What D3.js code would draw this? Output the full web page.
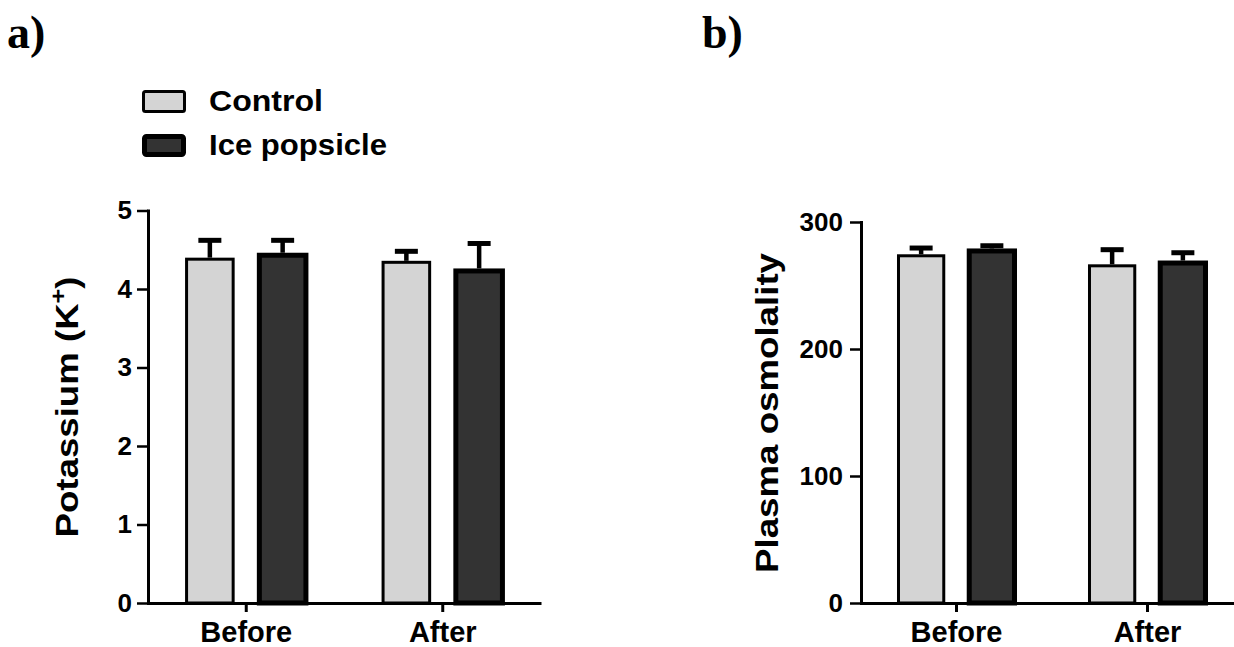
<!DOCTYPE html>
<html>
<head>
<meta charset="utf-8">
<script src="https://cdn.jsdelivr.net/npm/d3@7"></script>
<style>
  body { margin: 0; background: #fff; }
  svg text { font-family: "Liberation Sans", Arial, sans-serif; font-weight: bold; fill: #000; }
</style>
</head>
<body>
<svg id="root" width="1234" height="647"></svg>
<script>
// data (mean, upper SD)
const groups = ['Before', 'After'];
const seriesNames = ['Control', 'Ice popsicle'];

const potassiumControl = [4.38, 4.34];
const potassiumControlSd = [0.24, 0.14];
const potassiumIce = [4.43, 4.23];
const potassiumIceSd = [0.19, 0.35];
const potassiumTicks = [0, 1, 2, 3, 4, 5];

const osmoControl = [273.4, 265.5];
const osmoControlSd = [6.1, 12.7];
const osmoIce = [277.2, 267.7];
const osmoIceSd = [4.1, 8.1];
const osmoTicks = [0, 100, 200, 300];

const root = d3.select('#root');
const baseY = 603;
const fills = ['#d4d4d4', '#333333'];
const strokes = [3, 5];

const drawPanel = (selection, p) => {
    const x0 = d3.scaleBand().domain(groups).range(p.xRange);
    const x1 = d3.scaleBand().domain(seriesNames)
        .range([0, x0.bandwidth()])
        .paddingInner(0.36)
        .paddingOuter(0.53);
    const y = d3.scaleLinear().domain([0, d3.max(p.ticks)]).range([baseY, p.yTop]);

    const rows = groups.flatMap((g, i) => seriesNames.map((s, k) => ({
        group: g, k: k, value: p.values[k][i], sd: p.sds[k][i]
    })));
    const cx = d => x0(d.group) + x1(seriesNames[d.k]) + x1.bandwidth() / 2;

    selection.selectAll('rect.bar')
        .data(rows)
        .enter()
        .append('rect')
        .attr('class', 'bar')
        .attr('x', d => x0(d.group) + x1(seriesNames[d.k]))
        .attr('y', d => y(d.value))
        .attr('width', x1.bandwidth())
        .attr('height', d => y(0) - y(d.value))
        .attr('fill', d => fills[d.k])
        .attr('stroke', '#000')
        .attr('stroke-width', d => strokes[d.k]);

    // upper error bars only
    selection.selectAll('line.stem')
        .data(rows)
        .enter()
        .append('line')
        .attr('class', 'stem')
        .attr('x1', cx).attr('x2', cx)
        .attr('y1', d => y(d.value) - strokes[d.k] / 2)
        .attr('y2', d => y(d.value + d.sd))
        .attr('stroke', '#000')
        .attr('stroke-width', 4.5);
    selection.selectAll('line.cap')
        .data(rows)
        .enter()
        .append('line')
        .attr('class', 'cap')
        .attr('x1', d => cx(d) - 11.5).attr('x2', d => cx(d) + 11.5)
        .attr('y1', d => y(d.value + d.sd))
        .attr('y2', d => y(d.value + d.sd))
        .attr('stroke', '#000')
        .attr('stroke-width', 5);

    const yAxis = selection.append('g')
        .attr('transform', `translate(${p.xRange[0]},0)`)
        .call(d3.axisLeft(y).tickValues(p.ticks).tickFormat(d3.format('d'))
            .tickSize(11).tickPadding(p.tickPad).tickSizeOuter(0));
    yAxis.select('.domain').attr('stroke-width', 3).attr('stroke-linecap', 'square');
    yAxis.selectAll('.tick line').attr('stroke-width', 2.5);
    yAxis.selectAll('.tick text').attr('font-size', 26).attr('font-family', null);

    const xAxis = selection.append('g')
        .attr('transform', `translate(0,${baseY})`)
        .call(d3.axisBottom(x0).tickSize(9).tickPadding(9).tickSizeOuter(0));
    xAxis.select('.domain').attr('stroke-width', 3);
    xAxis.selectAll('.tick line').attr('stroke-width', 3);
    xAxis.selectAll('.tick text').attr('font-size', 29).attr('font-family', null);

    selection.append('text')
        .attr('transform', `translate(${p.labelX},${p.labelY}) rotate(-90)`)
        .attr('text-anchor', 'middle')
        .attr('font-size', 32)
        .attr('textLength', p.labelLength)
        .attr('lengthAdjust', 'spacingAndGlyphs')
        .call(t => p.label(t));

    selection.append('text')
        .attr('x', p.tagX)
        .attr('y', 48)
        .attr('font-size', 46)
        .style('font-family', '"Liberation Serif", "Times New Roman", serif')
        .text(p.tag);
};

const panelA = root.append('g');
drawPanel(panelA, {
    xRange: [148, 541], yTop: 210.5, ticks: potassiumTicks, tickPad: 5,
    values: [potassiumControl, potassiumIce], sds: [potassiumControlSd, potassiumIceSd],
    labelX: 78, labelY: 407, labelLength: 261,
    label: t => {
        t.append('tspan').text('Potassium (K');
        t.append('tspan').attr('baseline-shift', 'super').attr('font-size', 22).text('+');
        t.append('tspan').text(')');
    },
    tagX: 7, tag: 'a)'
});

const panelB = root.append('g');
drawPanel(panelB, {
    xRange: [861, 1243], yTop: 222, ticks: osmoTicks, tickPad: 7,
    values: [osmoControl, osmoIce], sds: [osmoControlSd, osmoIceSd],
    labelX: 778, labelY: 413, labelLength: 320,
    label: t => t.text('Plasma osmolality'),
    tagX: 702, tag: 'b)'
});

// legend
const legend = panelA.append('g').attr('transform', 'translate(142,90)');
const legendWidths = [114, 178];
const item = legend.selectAll('g.item')
    .data(seriesNames)
    .enter()
    .append('g')
    .attr('class', 'item')
    .attr('transform', (d, i) => `translate(0,${i * 44})`);
item.append('rect')
    .attr('x', (d, i) => strokes[i] / 2)
    .attr('y', (d, i) => strokes[i] / 2)
    .attr('width', (d, i) => 44 - strokes[i])
    .attr('height', (d, i) => 23 - strokes[i])
    .attr('rx', 2)
    .attr('fill', (d, i) => fills[i])
    .attr('stroke', '#000')
    .attr('stroke-width', (d, i) => strokes[i]);
item.append('text')
    .attr('x', 67)
    .attr('y', 21)
    .attr('font-size', 30)
    .attr('textLength', (d, i) => legendWidths[i])
    .attr('lengthAdjust', 'spacingAndGlyphs')
    .text(d => d);
</script>
</body>
</html>
